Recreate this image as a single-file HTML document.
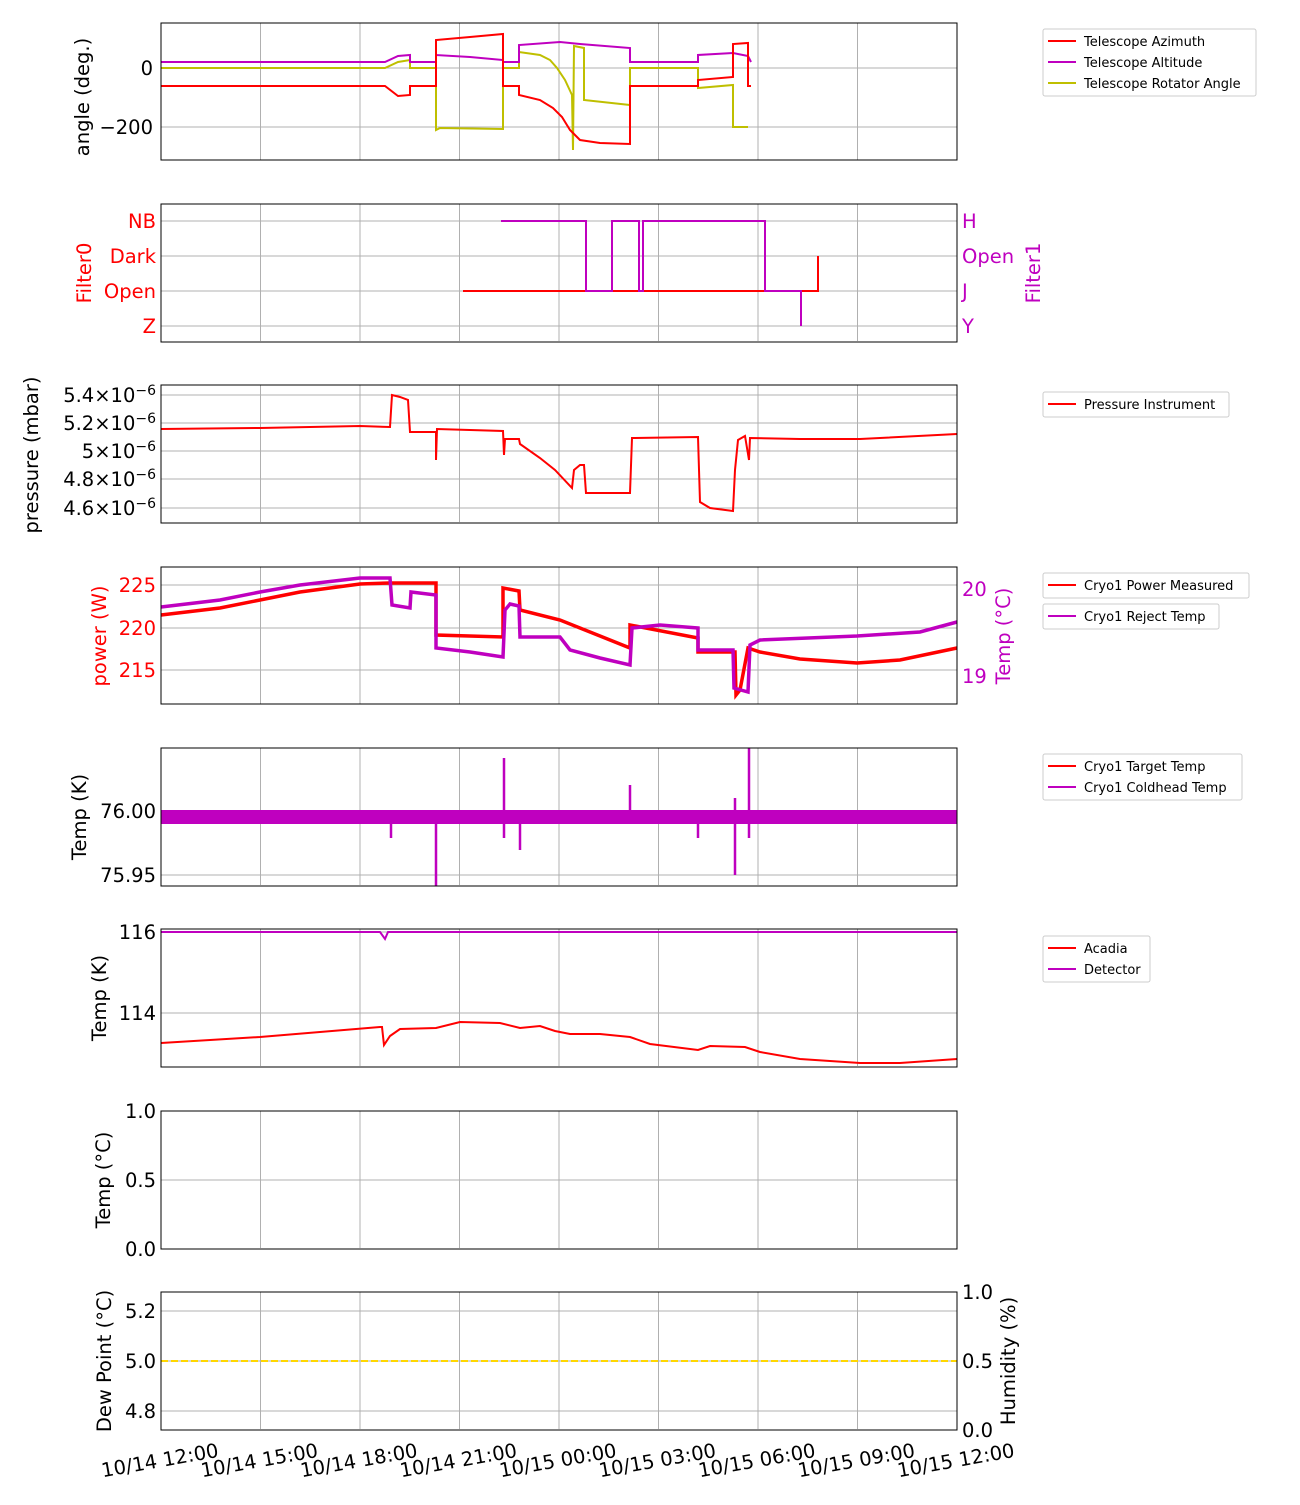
<!DOCTYPE html>
<html><head><meta charset="utf-8"><style>
body{margin:0;background:#fff}
svg{font-family:"DejaVu Sans","Liberation Sans",sans-serif}
.g{stroke:#b0b0b0;stroke-width:1}
.ax{fill:none;stroke:#000;stroke-width:1}
.t{font-size:19.5px}
.l{font-size:13px}
</style></head><body>
<svg width="1300" height="1500" viewBox="0 0 1300 1500" xmlns="http://www.w3.org/2000/svg">
<defs>
<g id="vg">
<line class="g" x1="260.5" x2="260.5" y1="0" y2="137"/><line class="g" x1="360" x2="360" y1="0" y2="137"/><line class="g" x1="459.5" x2="459.5" y1="0" y2="137"/><line class="g" x1="559" x2="559" y1="0" y2="137"/><line class="g" x1="658.5" x2="658.5" y1="0" y2="137"/><line class="g" x1="758" x2="758" y1="0" y2="137"/><line class="g" x1="857.5" x2="857.5" y1="0" y2="137"/>
</g>
</defs>
<use href="#vg" y="23"/><use href="#vg" y="204"/><use href="#vg" y="385"/><use href="#vg" y="567"/><use href="#vg" y="748"/><use href="#vg" y="929"/><use href="#vg" y="1111"/><use href="#vg" y="1292"/>

<!-- Panel 1 -->
<line class="g" x1="161" x2="957" y1="68" y2="68"/><line class="g" x1="161" x2="957" y1="127" y2="127"/>
<polyline fill="none" stroke="#bfbf00" stroke-width="2" points="161,68 385,68 398,62 410,60 410,68 436,68 436,130 440,128 503,129 503,68 519,68 519,52 540,55 550,60 557,68 565,80 572,95 573,150 574,46 584,48 584,100 630,105 630,68 698,68 698,88 733,85 733,127 748,127"/>
<polyline fill="none" stroke="#bf00bf" stroke-width="2" points="161,62 385,62 398,56 410,55 410,62 436,62 436,55 470,57 503,60 503,62 519,62 519,45 560,42 580,44 630,48 630,62 698,62 698,55 733,53 748,56 751,62"/>
<polyline fill="none" stroke="#ff0000" stroke-width="2" points="161,86 385,86 398,96 410,95 410,86 436,86 436,40 470,37 503,34 503,86 519,86 519,95 540,100 553,108 562,117 570,130 580,140 600,143 630,144 630,86 698,86 698,80 733,77 733,44 748,43 748,86 751,86"/>
<rect class="ax" x="161" y="23" width="796" height="137"/>
<text class="t" x="153" y="75" text-anchor="end">0</text>
<text class="t" x="153" y="134" text-anchor="end">−200</text>
<text class="t" transform="translate(89,97) rotate(-90)" text-anchor="middle">angle (deg.)</text>
<rect x="1043" y="29" width="213" height="67" fill="#fff" stroke="#ccc" rx="2"/>
<line x1="1048" x2="1076" y1="41" y2="41" stroke="#f00" stroke-width="2"/><text class="l" x="1084" y="46">Telescope Azimuth</text>
<line x1="1048" x2="1076" y1="62" y2="62" stroke="#bf00bf" stroke-width="2"/><text class="l" x="1084" y="67">Telescope Altitude</text>
<line x1="1048" x2="1076" y1="83" y2="83" stroke="#bfbf00" stroke-width="2"/><text class="l" x="1084" y="88">Telescope Rotator Angle</text>

<!-- Panel 2 -->
<line class="g" x1="161" x2="957" y1="221" y2="221"/><line class="g" x1="161" x2="957" y1="256" y2="256"/><line class="g" x1="161" x2="957" y1="291" y2="291"/><line class="g" x1="161" x2="957" y1="326" y2="326"/>
<polyline fill="none" stroke="#f00" stroke-width="2" points="463,291 818,291 818,256"/>
<polyline fill="none" stroke="#bf00bf" stroke-width="2" points="501,221 586,221 586,291 612,291 612,221 639,221 639,291 643,291 643,221 765,221 765,291 801,291 801,326"/>
<rect class="ax" x="161" y="204" width="796" height="138"/>
<g fill="#f00" class="t" text-anchor="end"><text x="156" y="228">NB</text><text x="156" y="263">Dark</text><text x="156" y="298">Open</text><text x="156" y="333">Z</text></g>
<g fill="#bf00bf" class="t"><text x="962" y="228">H</text><text x="962" y="263">Open</text><text x="962" y="298">J</text><text x="962" y="333">Y</text></g>
<text class="t" fill="#f00" transform="translate(91,273) rotate(-90)" text-anchor="middle">Filter0</text>
<text class="t" fill="#bf00bf" transform="translate(1040,273) rotate(-90)" text-anchor="middle">Filter1</text>

<!-- Panel 3 -->
<line class="g" x1="161" x2="957" y1="395" y2="395"/><line class="g" x1="161" x2="957" y1="423" y2="423"/><line class="g" x1="161" x2="957" y1="451" y2="451"/><line class="g" x1="161" x2="957" y1="479" y2="479"/><line class="g" x1="161" x2="957" y1="508" y2="508"/>
<polyline fill="none" stroke="#f00" stroke-width="2" points="161,429 260,428 360,426 390,427 392,395 400,397 408,400 410,432 436,432 436,460 437,429 503,431 504,455 505,439 519,439 520,444 540,458 555,470 572,488 574,470 580,465 584,465 586,493 630,493 632,438 698,437 700,502 710,508 733,511 735,470 738,440 745,436 749,460 750,438 800,439 860,439 957,434"/>
<rect class="ax" x="161" y="385" width="796" height="138"/>
<g class="t" text-anchor="end"><text x="156" y="402">5.4×10<tspan dy="-7" font-size="14">−6</tspan></text><text x="156" y="430">5.2×10<tspan dy="-7" font-size="14">−6</tspan></text><text x="156" y="458">5×10<tspan dy="-7" font-size="14">−6</tspan></text><text x="156" y="486">4.8×10<tspan dy="-7" font-size="14">−6</tspan></text><text x="156" y="515">4.6×10<tspan dy="-7" font-size="14">−6</tspan></text></g>
<text class="t" transform="translate(38,455) rotate(-90)" text-anchor="middle">pressure (mbar)</text>
<rect x="1043" y="392" width="186" height="25" fill="#fff" stroke="#ccc" rx="2"/>
<line x1="1048" x2="1076" y1="404" y2="404" stroke="#f00" stroke-width="2"/><text class="l" x="1084" y="409">Pressure Instrument</text>

<!-- Panel 4 -->
<line class="g" x1="161" x2="957" y1="585" y2="585"/><line class="g" x1="161" x2="957" y1="628" y2="628"/><line class="g" x1="161" x2="957" y1="670" y2="670"/>
<polyline fill="none" stroke="#f00" stroke-width="3.5" points="161,615 220,608 260,600 300,592 360,584 390,583 436,583 436,635 503,637 503,588 519,591 520,610 560,620 600,636 630,648 630,625 698,638 698,652 735,652 736,695 740,690 748,648 760,652 800,659 857,663 900,660 957,648"/>
<polyline fill="none" stroke="#bf00bf" stroke-width="3.5" points="161,607 220,600 260,592 300,585 360,578 390,578 392,605 410,608 411,592 436,595 436,648 470,652 503,657 505,610 510,604 519,606 520,637 560,637 570,650 600,658 630,665 632,628 660,625 698,628 698,650 733,650 734,688 748,692 750,645 760,640 857,636 920,632 957,622"/>
<rect class="ax" x="161" y="567" width="796" height="137"/>
<g class="t" fill="#f00" text-anchor="end"><text x="156" y="592">225</text><text x="156" y="635">220</text><text x="156" y="677">215</text></g>
<g class="t" fill="#bf00bf"><text x="962" y="596">20</text><text x="962" y="683">19</text></g>
<text class="t" fill="#f00" transform="translate(106,636) rotate(-90)" text-anchor="middle">power (W)</text>
<text class="t" fill="#bf00bf" transform="translate(1010,636) rotate(-90)" text-anchor="middle">Temp (°C)</text>
<rect x="1043" y="573" width="206" height="25" fill="#fff" stroke="#ccc" rx="2"/>
<line x1="1048" x2="1076" y1="585" y2="585" stroke="#f00" stroke-width="2"/><text class="l" x="1084" y="590">Cryo1 Power Measured</text>
<rect x="1043" y="604" width="176" height="25" fill="#fff" stroke="#ccc" rx="2"/>
<line x1="1048" x2="1076" y1="616" y2="616" stroke="#bf00bf" stroke-width="2"/><text class="l" x="1084" y="621">Cryo1 Reject Temp</text>

<!-- Panel 5 -->
<line class="g" x1="161" x2="957" y1="811" y2="811"/><line class="g" x1="161" x2="957" y1="875" y2="875"/>
<rect x="161" y="810" width="796" height="14" fill="#bf00bf"/>
<g stroke="#bf00bf" stroke-width="2.5"><line x1="391" x2="391" y1="815" y2="838"/><line x1="436" x2="436" y1="815" y2="886"/><line x1="504" x2="504" y1="758" y2="838"/><line x1="520" x2="520" y1="815" y2="850"/><line x1="630" x2="630" y1="785" y2="815"/><line x1="698" x2="698" y1="815" y2="838"/><line x1="735" x2="735" y1="798" y2="875"/><line x1="749" x2="749" y1="748" y2="838"/></g>
<rect class="ax" x="161" y="748" width="796" height="138"/>
<g class="t" text-anchor="end"><text x="156" y="818">76.00</text><text x="156" y="882">75.95</text></g>
<text class="t" transform="translate(86,817) rotate(-90)" text-anchor="middle">Temp (K)</text>
<rect x="1043" y="754" width="199" height="46" fill="#fff" stroke="#ccc" rx="2"/>
<line x1="1048" x2="1076" y1="766" y2="766" stroke="#f00" stroke-width="2"/><text class="l" x="1084" y="771">Cryo1 Target Temp</text>
<line x1="1048" x2="1076" y1="787" y2="787" stroke="#bf00bf" stroke-width="2"/><text class="l" x="1084" y="792">Cryo1 Coldhead Temp</text>

<!-- Panel 6 -->
<line class="g" x1="161" x2="957" y1="932" y2="932"/><line class="g" x1="161" x2="957" y1="1013" y2="1013"/>
<polyline fill="none" stroke="#bf00bf" stroke-width="2" points="161,932 380,932 385,939 388,932 957,932"/>
<polyline fill="none" stroke="#f00" stroke-width="2" points="161,1043 260,1037 380,1027 382,1027 384,1045 390,1036 400,1029 436,1028 460,1022 500,1023 520,1028 540,1026 555,1031 570,1034 600,1034 630,1037 650,1044 698,1050 710,1046 745,1047 760,1052 800,1059 860,1063 900,1063 957,1059"/>
<rect class="ax" x="161" y="929" width="796" height="138"/>
<g class="t" text-anchor="end"><text x="156" y="939">116</text><text x="156" y="1020">114</text></g>
<text class="t" transform="translate(106,998) rotate(-90)" text-anchor="middle">Temp (K)</text>
<rect x="1043" y="936" width="107" height="46" fill="#fff" stroke="#ccc" rx="2"/>
<line x1="1048" x2="1076" y1="948" y2="948" stroke="#f00" stroke-width="2"/><text class="l" x="1084" y="953">Acadia</text>
<line x1="1048" x2="1076" y1="969" y2="969" stroke="#bf00bf" stroke-width="2"/><text class="l" x="1084" y="974">Detector</text>

<!-- Panel 7 -->
<line class="g" x1="161" x2="957" y1="1180" y2="1180"/>
<rect class="ax" x="161" y="1111" width="796" height="138"/>
<g class="t" text-anchor="end"><text x="156" y="1118">1.0</text><text x="156" y="1187">0.5</text><text x="156" y="1256">0.0</text></g>
<text class="t" transform="translate(110,1180) rotate(-90)" text-anchor="middle">Temp (°C)</text>

<!-- Panel 8 -->
<line class="g" x1="161" x2="957" y1="1311" y2="1311"/><line class="g" x1="161" x2="957" y1="1361" y2="1361"/><line class="g" x1="161" x2="957" y1="1411" y2="1411"/>
<line x1="161" x2="957" y1="1361" y2="1361" stroke="#ffd700" stroke-width="2" stroke-dasharray="7,3"/>
<rect class="ax" x="161" y="1292" width="796" height="138"/>
<g class="t" text-anchor="end"><text x="156" y="1318">5.2</text><text x="156" y="1368">5.0</text><text x="156" y="1418">4.8</text></g>
<g class="t"><text x="962" y="1299">1.0</text><text x="962" y="1368">0.5</text><text x="962" y="1437">0.0</text></g>
<text class="t" transform="translate(111,1361) rotate(-90)" text-anchor="middle">Dew Point (°C)</text>
<text class="t" transform="translate(1015,1361) rotate(-90)" text-anchor="middle">Humidity (%)</text>

<g class="t" text-anchor="middle">
<text transform="translate(161,1467) rotate(-10)">10/14 12:00</text>
<text transform="translate(260.5,1467) rotate(-10)">10/14 15:00</text>
<text transform="translate(360,1467) rotate(-10)">10/14 18:00</text>
<text transform="translate(459.5,1467) rotate(-10)">10/14 21:00</text>
<text transform="translate(559,1467) rotate(-10)">10/15 00:00</text>
<text transform="translate(658.5,1467) rotate(-10)">10/15 03:00</text>
<text transform="translate(758,1467) rotate(-10)">10/15 06:00</text>
<text transform="translate(857.5,1467) rotate(-10)">10/15 09:00</text>
<text transform="translate(957,1467) rotate(-10)">10/15 12:00</text>
</g>
</svg>
</body></html>
